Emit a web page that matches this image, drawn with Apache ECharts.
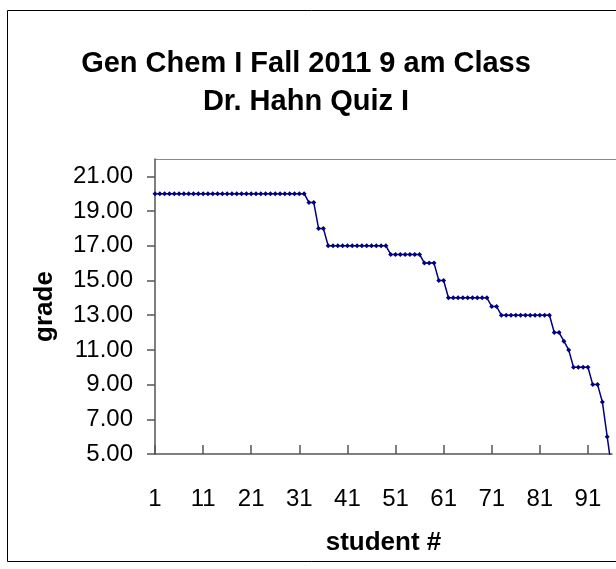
<!DOCTYPE html>
<html>
<head>
<meta charset="utf-8">
<script src="https://cdn.jsdelivr.net/npm/echarts@6/dist/echarts.min.js"></script>
<style>
  html, body { margin: 0; padding: 0; background: #fff; }
  #chart { width: 616px; height: 569px; }
</style>
</head>
<body>
<div id="chart"></div>
<script>
const titleLines = ['Gen Chem I Fall 2011 9 am Class', 'Dr. Hahn Quiz I'];
const xName = 'student #';
const yName = 'grade';

const students = [
  1, 2, 3, 4, 5, 6, 7, 8, 9, 10, 11, 12, 13, 14, 15, 16, 17, 18, 19, 20,
  21, 22, 23, 24, 25, 26, 27, 28, 29, 30, 31, 32, 33, 34, 35, 36, 37, 38, 39, 40,
  41, 42, 43, 44, 45, 46, 47, 48, 49, 50, 51, 52, 53, 54, 55, 56, 57, 58, 59, 60,
  61, 62, 63, 64, 65, 66, 67, 68, 69, 70, 71, 72, 73, 74, 75, 76, 77, 78, 79, 80,
  81, 82, 83, 84, 85, 86, 87, 88, 89, 90, 91, 92, 93, 94, 95, 96
];

const grades = [
  20, 20, 20, 20, 20, 20, 20, 20, 20, 20, 20, 20, 20, 20, 20, 20,
  20, 20, 20, 20, 20, 20, 20, 20, 20, 20, 20, 20, 20, 20, 20, 20,
  19.5, 19.5, 18, 18,
  17, 17, 17, 17, 17, 17, 17, 17, 17, 17, 17, 17, 17,
  16.5, 16.5, 16.5, 16.5, 16.5, 16.5, 16.5,
  16, 16, 16, 15, 15,
  14, 14, 14, 14, 14, 14, 14, 14, 14,
  13.5, 13.5,
  13, 13, 13, 13, 13, 13, 13, 13, 13, 13, 13,
  12, 12, 11.5, 11,
  10, 10, 10, 10,
  9, 9, 8, 6, 4
];

const yTicks = [5, 7, 9, 11, 13, 15, 17, 19, 21];

const font = 'Liberation Sans, Arial, sans-serif';
const chart = echarts.init(document.getElementById('chart'), null, { renderer: 'canvas' });

const option = {
  backgroundColor: '#fff',
  animation: false,
  title: {
    text: titleLines.join('\n'),
    left: 301,
    top: 40,
    textAlign: 'center',
    textStyle: {
      fontFamily: font,
      fontSize: 29,
      fontWeight: 'bold',
      color: '#000',
      lineHeight: 38
    }
  },
  grid: {
    left: 155,
    right: 4,
    top: 159,
    bottom: 115,
    outerBoundsMode: 'none'
  },
  xAxis: {
    type: 'category',
    data: students,
    boundaryGap: false,
    name: xName,
    nameLocation: 'middle',
    nameGap: 76,
    nameTextStyle: { fontFamily: font, fontSize: 26, fontWeight: 'bold', color: '#000' },
    axisLine: { lineStyle: { color: '#555', width: 1.5 } },
    axisTick: { inside: true, length: 9, interval: 9, lineStyle: { color: '#555', width: 1.5 } },
    axisLabel: { interval: 9, margin: 33, fontFamily: font, fontSize: 24, color: '#000' },
    splitLine: { show: false }
  },
  yAxis: {
    type: 'value',
    min: 5,
    max: 22,
    interval: 2,
    name: yName,
    nameLocation: 'middle',
    nameGap: 97,
    nameRotate: 90,
    nameTextStyle: { fontFamily: font, fontSize: 26, fontWeight: 'bold', color: '#000' },
    axisLine: { show: true, lineStyle: { color: '#555', width: 1.5 } },
    axisTick: { show: true, length: 8, customValues: yTicks, lineStyle: { color: '#555', width: 1.5 } },
    axisLabel: {
      margin: 22,
      customValues: yTicks,
      fontFamily: font,
      fontSize: 24,
      color: '#000',
      formatter: v => v.toFixed(2)
    },
    splitLine: { show: false }
  },
  series: [{
    type: 'line',
    data: grades,
    clip: true,
    symbol: 'diamond',
    symbolSize: 5,
    showAllSymbol: true,
    lineStyle: { color: '#000080', width: 1.5 },
    itemStyle: { color: '#000080' }
  }],
  graphic: [
    {
      type: 'polyline',
      shape: { points: [[616, 10.5], [7.5, 10.5], [7.5, 561.5], [616, 561.5]] },
      style: { stroke: '#000', lineWidth: 1, fill: null },
      silent: true
    },
    {
      type: 'line',
      shape: { x1: 155, y1: 159.5, x2: 616, y2: 159.5 },
      style: { stroke: '#888', lineWidth: 1 },
      silent: true
    }
  ]
};

chart.setOption(option);
</script>
</body>
</html>
